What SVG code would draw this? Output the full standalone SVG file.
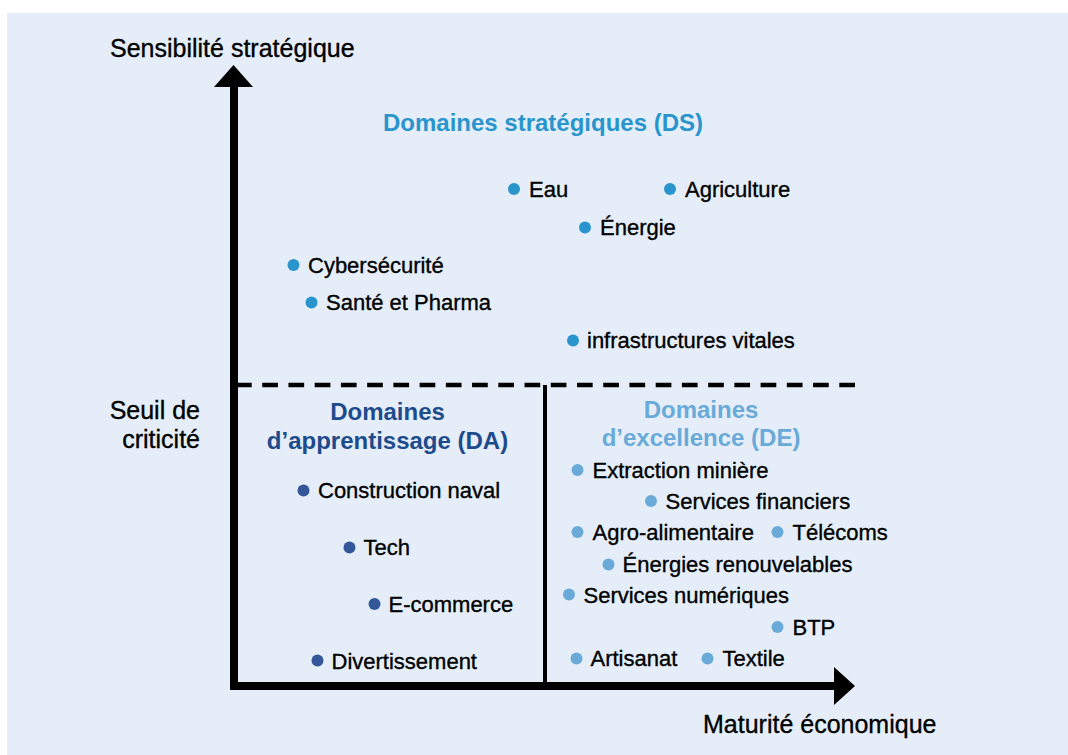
<svg xmlns="http://www.w3.org/2000/svg" width="1068" height="755" viewBox="0 0 1068 755">
<style>
text{font-family:"Liberation Sans",Arial,Helvetica,sans-serif;fill:#000}
.item,.axis{stroke:#000;stroke-width:0.35}
.item{font-size:22px}
.axis{font-size:25px}
.title{font-size:24px;font-weight:bold;text-anchor:middle}
.ds{fill:#2A95CD}
.da{fill:#1E4B8C}
.de{fill:#6AAAD8}
.dda{fill:#34579A}
</style>
<rect x="7" y="13" width="1061" height="742" fill="#E5EEF8"/>
<g id="axes">
<line x1="234" y1="85" x2="234" y2="690" stroke="#000" stroke-width="8"/>
<polygon points="214,87 253,87 233.5,65" fill="#000"/>
<line x1="230" y1="686" x2="836" y2="686" stroke="#000" stroke-width="8"/>
<polygon points="834,667 834,705 855,686" fill="#000"/>
</g>
<g id="connectors">
<line x1="236" y1="385" x2="855" y2="385" stroke="#000" stroke-width="4.5" stroke-dasharray="15.7 10.53"/>
<line x1="545" y1="385" x2="545" y2="686" stroke="#000" stroke-width="4"/>
</g>
<g id="labels">
<text class="axis" x="110" y="57">Sensibilité stratégique</text>
<text class="axis" x="703" y="733">Maturité économique</text>
<text class="axis" x="200" y="419" text-anchor="end">Seuil de</text>
<text class="axis" x="200" y="448" text-anchor="end">criticité</text>
</g>
<g id="ds">
<text class="title ds" x="543" y="131">Domaines stratégiques (DS)</text>
<g class="ds">
<circle cx="514" cy="189" r="6"/>
<circle cx="670" cy="189" r="6"/>
<circle cx="585" cy="227.5" r="6"/>
<circle cx="293.5" cy="265" r="6"/>
<circle cx="311.5" cy="302.5" r="6"/>
<circle cx="573" cy="340.5" r="6"/>
</g>
<text class="item" x="529" y="197">Eau</text>
<text class="item" x="685" y="197">Agriculture</text>
<text class="item" x="600" y="235">Énergie</text>
<text class="item" x="308" y="272.5">Cybersécurité</text>
<text class="item" x="326" y="310">Santé et Pharma</text>
<text class="item" x="587" y="348">infrastructures vitales</text>
</g>
<g id="da">
<text class="title da" x="387.5" y="420">Domaines</text>
<text class="title da" x="387.5" y="449">d’apprentissage (DA)</text>
<g class="dda">
<circle cx="303.5" cy="490.5" r="6"/>
<circle cx="349.5" cy="547.5" r="6"/>
<circle cx="374.5" cy="604" r="6"/>
<circle cx="317.5" cy="660.5" r="6"/>
</g>
<text class="item" x="318" y="498">Construction naval</text>
<text class="item" x="363.5" y="555">Tech</text>
<text class="item" x="388.5" y="612">E-commerce</text>
<text class="item" x="331.5" y="668.5">Divertissement</text>
</g>
<g id="de">
<text class="title de" x="701" y="418">Domaines</text>
<text class="title de" x="701" y="446">d’excellence (DE)</text>
<g class="de">
<circle cx="577.5" cy="470" r="6"/>
<circle cx="651" cy="501" r="6"/>
<circle cx="577.5" cy="532" r="6"/>
<circle cx="777.5" cy="532" r="6"/>
<circle cx="608.5" cy="564.5" r="6"/>
<circle cx="569" cy="594.5" r="6"/>
<circle cx="777.5" cy="627" r="6"/>
<circle cx="576.5" cy="658.5" r="6"/>
<circle cx="707.5" cy="658.5" r="6"/>
</g>
<text class="item" x="592.5" y="478">Extraction minière</text>
<text class="item" x="665.5" y="509">Services financiers</text>
<text class="item" x="592.5" y="540">Agro-alimentaire</text>
<text class="item" x="792.5" y="540">Télécoms</text>
<text class="item" x="622.5" y="572">Énergies renouvelables</text>
<text class="item" x="583.5" y="602.5">Services numériques</text>
<text class="item" x="792.5" y="634.5">BTP</text>
<text class="item" x="590.5" y="666">Artisanat</text>
<text class="item" x="722.5" y="666">Textile</text>
</g>
</svg>
